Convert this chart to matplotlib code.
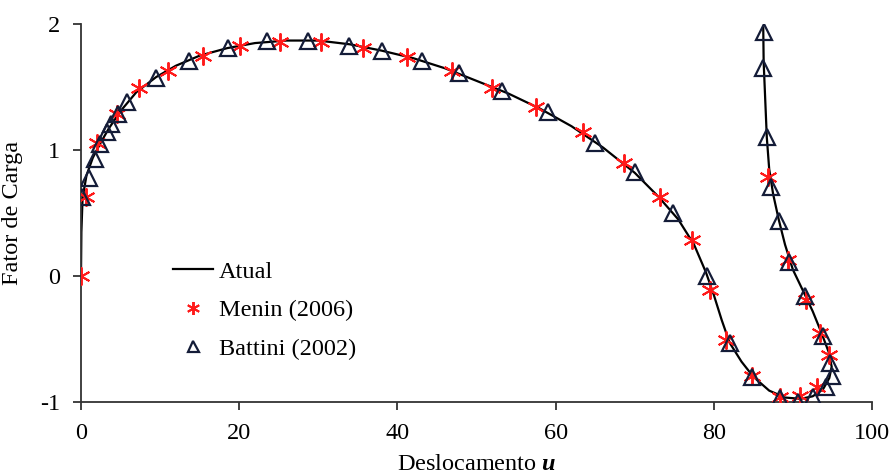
import matplotlib
matplotlib.use("Agg")
import matplotlib.pyplot as plt
from matplotlib.ticker import FixedLocator, FixedFormatter

plt.rcParams['font.family'] = ['Liberation Serif', 'DejaVu Serif']
plt.rcParams['mathtext.fontset'] = 'custom'
plt.rcParams['mathtext.rm'] = 'Liberation Serif'
plt.rcParams['mathtext.it'] = 'Liberation Serif:italic'
plt.rcParams['mathtext.bf'] = 'Liberation Serif:bold:italic'

# Atual (line)
atual_u = [0, 0.05, 0.2, 0.7, 1.5, 2.5, 3.5, 5, 7, 9.5, 12, 15, 18.5, 22, 26, 30, 34, 38,
           42, 46, 50, 54, 58, 62, 66, 70, 73, 75.5, 77.5, 79, 80, 81, 82, 83.5, 85, 87,
           89, 91, 92.5, 93.8, 94.6, 94.9, 94.5, 93.6, 92.5, 91.3, 90, 89, 88.2, 87.5,
           87, 86.7, 86.5, 86.3, 86.25]
atual_f = [0, 0.35, 0.62, 0.80, 0.94, 1.06, 1.17, 1.31, 1.46, 1.58, 1.67, 1.75, 1.81, 1.85,
           1.87, 1.87, 1.84, 1.79, 1.73, 1.65, 1.55, 1.45, 1.33, 1.19, 1.02, 0.82, 0.63,
           0.45, 0.25, 0.03, -0.15, -0.35, -0.53, -0.68, -0.80, -0.91, -0.965, -0.975,
           -0.955, -0.90, -0.81, -0.72, -0.60, -0.45, -0.28, -0.12, 0.05, 0.25, 0.45, 0.65,
           0.85, 1.10, 1.40, 1.70, 1.97]

# Menin (2006)
menin_u = [0, 0.6, 2.0, 4.5, 7.3, 11.0, 15.4, 20.1, 25.2, 30.4, 35.7, 41.2, 46.9, 52.0,
           57.5, 63.5, 68.6, 73.2, 77.2, 79.5, 81.6, 84.8, 88.4, 90.9, 93.1, 94.5, 93.4,
           91.7, 89.4, 86.9]
menin_f = [0, 0.63, 1.06, 1.29, 1.49, 1.63, 1.75, 1.83, 1.86, 1.86, 1.81, 1.74, 1.63, 1.49,
           1.34, 1.145, 0.90, 0.63, 0.29, -0.11, -0.51, -0.79, -0.96, -0.95, -0.88, -0.63,
           -0.455, -0.19, 0.13, 0.79]

# Battini (2002)
battini_u = [0.1, 1.05, 1.8, 2.4, 3.25, 3.75, 4.7, 5.8, 9.5, 13.6, 18.6, 23.5, 28.7, 33.9,
             38.1, 43.1, 47.8, 53.2, 59.0, 65.0, 70.0, 74.9, 79.1, 82.0, 84.8, 88.4, 90.7,
             92.6, 94.2, 94.9, 94.7, 93.8, 91.5, 89.5, 88.2, 87.2, 86.7, 86.2, 86.3]
battini_f = [0.63, 0.775, 0.93, 1.05, 1.14, 1.21, 1.29, 1.38, 1.57, 1.71, 1.81, 1.87, 1.87,
             1.83, 1.79, 1.71, 1.61, 1.47, 1.30, 1.06, 0.83, 0.50, 0.0, -0.53, -0.80, -0.97,
             -1.0, -0.96, -0.88, -0.79, -0.69, -0.48, -0.16, 0.11, 0.44, 0.71, 1.105, 1.65,
             1.94]

x_ticks = [0, 20, 40, 60, 80, 100]
y_ticks = [-1, 0, 1, 2]
y_tick_labels = ['-1', '0', '1', '2']

fig = plt.figure(figsize=(8.91, 4.74), dpi=100)
ax = fig.add_axes([0.0909, 0.152, 0.8878, 0.797])

ax.plot(atual_u, atual_f, color='black', lw=1.6, label='Atual', zorder=2)
ax.plot(menin_u, menin_f, ls='none', marker=(6, 2, 0), ms=13, mew=1.4, color='#ff1a1a',
        label='Menin (2006)', zorder=3)
ax.plot(battini_u, battini_f, ls='none', marker='^', ms=11, mew=1.6, mfc='none',
        mec='#141c38', label='Battini (2002)', zorder=4)

ax.set_xlim(0, 100)
ax.set_ylim(-1, 2)
ax.xaxis.set_major_locator(FixedLocator(x_ticks))
ax.yaxis.set_major_locator(FixedLocator(y_ticks))
ax.yaxis.set_major_formatter(FixedFormatter(y_tick_labels))
for s in ['top', 'right']:
    ax.spines[s].set_visible(False)
for s in ['left', 'bottom']:
    ax.spines[s].set_linewidth(1.3)
    ax.spines[s].set_color('#333333')
ax.tick_params(direction='out', length=6, width=1.3, color='#333333', labelsize=17.5)
ax.tick_params(axis='x', pad=9)
ax.tick_params(axis='y', pad=9)
ax.set_xlabel('Deslocamento $\\mathbf{u}$', fontsize=17.5, labelpad=7)
ax.set_ylabel('Fator de Carga', fontsize=17.5, labelpad=12)

leg = ax.legend(loc='upper left', bbox_to_anchor=(0.116, 0.374), frameon=False,
                fontsize=17.5, handlelength=1.65, handletextpad=0.25, labelspacing=0.68,
                borderpad=0, borderaxespad=0, markerscale=0.72)

fig.savefig('out.png', dpi=100)
